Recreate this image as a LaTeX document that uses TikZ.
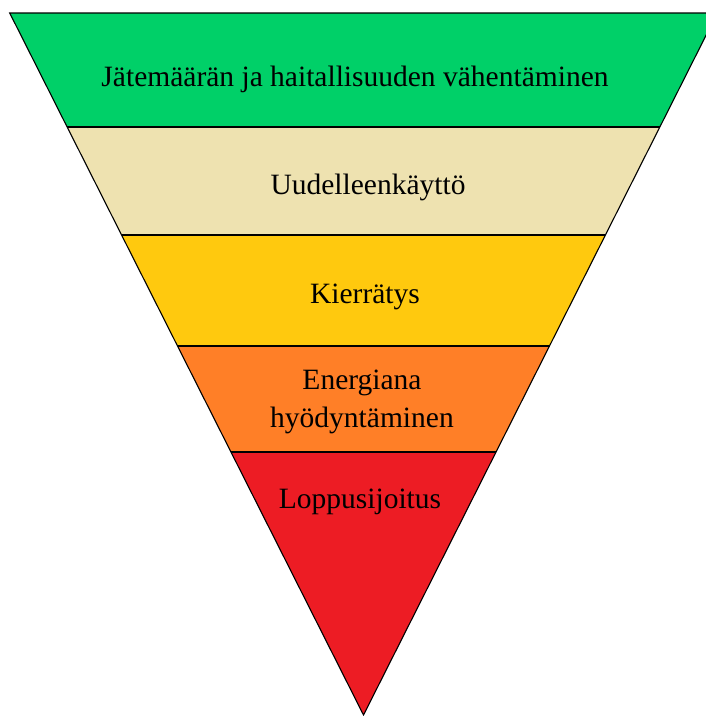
\documentclass[tikz,border=0pt]{standalone}
\usepackage{fontspec}
\setmainfont{Liberation Serif}
\definecolor{cgreen}{RGB}{0,208,104}
\definecolor{cbeige}{RGB}{238,226,176}
\definecolor{cyellow}{RGB}{255,201,14}
\definecolor{corange}{RGB}{255,127,39}
\definecolor{cred}{RGB}{237,28,36}
\begin{document}
\begin{tikzpicture}[x=1pt,y=-1pt,
  band/.style={draw=black,line width=1.1pt,line join=miter},
  lbl/.style={font=\fontsize{29.5}{38}\selectfont,text=black,align=center,inner sep=0pt}]
\useasboundingbox (0,0) rectangle (706,716);
\begin{scope}
\clip (0,0) rectangle (706,716);
% apex (363.5,715), half-width slope 0.504 per px
\coordinate (A) at (363.5,715);
\coordinate (L0) at (9.7,13);   \coordinate (R0) at (717.3,13);
\coordinate (L1) at (67.2,127); \coordinate (R1) at (659.8,127);
\coordinate (L2) at (121.6,235);\coordinate (R2) at (605.4,235);
\coordinate (L3) at (177.5,346);\coordinate (R3) at (549.5,346);
\coordinate (L4) at (230.9,452);\coordinate (R4) at (496.1,452);
\fill[cgreen] (L0) -- (R0) -- (R1) -- (L1) -- cycle;
\fill[cbeige] (L1) -- (R1) -- (R2) -- (L2) -- cycle;
\fill[cyellow] (L2) -- (R2) -- (R3) -- (L3) -- cycle;
\fill[corange] (L3) -- (R3) -- (R4) -- (L4) -- cycle;
\fill[cred] (L4) -- (R4) -- (A) -- cycle;
\draw[band] (L0) -- (R0) -- (A) -- cycle;
\draw[band] (L1) -- (R1);
\draw[band] (L2) -- (R2);
\draw[band] (L3) -- (R3);
\draw[band] (L4) -- (R4);
\end{scope}
\node[lbl] (t1) at (355,79) {Jätemäärän ja haitallisuuden vähentäminen};
\node[lbl] (t2) at (368,187) {Uudelleenkäyttö};
\node[lbl] (t3) at (365,297) {Kierrätys};
\node[lbl] (t4) at (362,402) {Energiana\\hyödyntäminen};
\node[lbl] (t5) at (360,502) {Loppusijoitus};
\end{tikzpicture}
\end{document}
